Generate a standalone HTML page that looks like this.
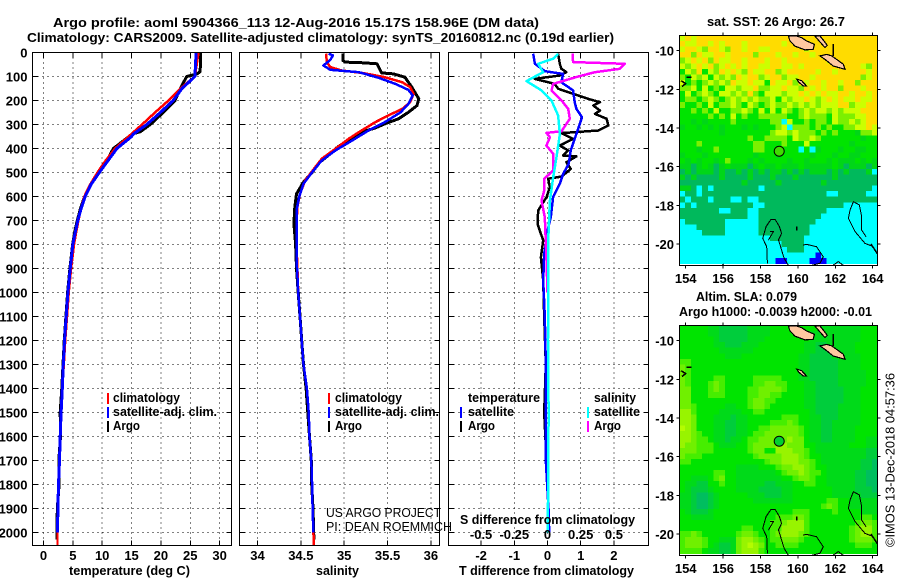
<!DOCTYPE html>
<html lang="en">
<head>
<meta charset="utf-8">
<title>Argo profile chart</title>
<style>
html,body{margin:0;padding:0;background:#fff;width:900px;height:580px;overflow:hidden}
svg{display:block;font-family:"Liberation Sans",sans-serif}
text{fill:#000;font-weight:bold;font-size:13px}
text.thin{font-weight:normal}
</style>
</head>
<body>
<svg id="chart" xmlns="http://www.w3.org/2000/svg" width="900" height="580" viewBox="0 0 900 580">
  <text x="53" y="27" textLength="486" lengthAdjust="spacingAndGlyphs">Argo profile: aoml 5904366_113 12-Aug-2016 15.17S 158.96E (DM data)</text>
  <text x="27" y="42" textLength="587" lengthAdjust="spacingAndGlyphs">Climatology: CARS2009. Satellite-adjusted climatology: synTS_20160812.nc (0.19d earlier)</text>

  <g id="p1"></g>
  <g id="p2"></g>
  <g id="p3"></g>
  <g id="m1"></g>
  <g id="m2"></g>

  <text x="69" y="575" textLength="121" lengthAdjust="spacingAndGlyphs">temperature (deg C)</text>
  <text x="316" y="575" textLength="43" lengthAdjust="spacingAndGlyphs">salinity</text>
  <text x="459" y="575" textLength="175" lengthAdjust="spacingAndGlyphs">T difference from climatology</text>

  <g>
    <rect x="107" y="393" width="2" height="11" fill="#f00"/>
    <text x="113" y="402" textLength="67" lengthAdjust="spacingAndGlyphs">climatology</text>
    <rect x="107" y="407" width="2" height="11" fill="#00f"/>
    <text x="113" y="416" textLength="104" lengthAdjust="spacingAndGlyphs">satellite-adj. clim.</text>
    <rect x="107" y="421" width="2" height="11" fill="#000"/>
    <text x="113" y="430" textLength="27" lengthAdjust="spacingAndGlyphs">Argo</text>
  </g>
  <g>
    <rect x="328" y="393" width="2" height="11" fill="#f00"/>
    <text x="335" y="402" textLength="67" lengthAdjust="spacingAndGlyphs">climatology</text>
    <rect x="328" y="407" width="2" height="11" fill="#00f"/>
    <text x="335" y="416" textLength="104" lengthAdjust="spacingAndGlyphs">satellite-adj. clim.</text>
    <rect x="328" y="421" width="2" height="11" fill="#000"/>
    <text x="335" y="430" textLength="27" lengthAdjust="spacingAndGlyphs">Argo</text>
  </g>
  <g>
    <text x="468" y="402" textLength="72" lengthAdjust="spacingAndGlyphs">temperature</text>
    <rect x="460" y="407" width="2" height="11" fill="#00f"/>
    <text x="468" y="416" textLength="46" lengthAdjust="spacingAndGlyphs">satellite</text>
    <rect x="460" y="421" width="2" height="11" fill="#000"/>
    <text x="468" y="430" textLength="27" lengthAdjust="spacingAndGlyphs">Argo</text>
    <text x="594" y="402" textLength="42" lengthAdjust="spacingAndGlyphs">salinity</text>
    <rect x="587" y="407" width="2" height="11" fill="#0ff"/>
    <text x="594" y="416" textLength="46" lengthAdjust="spacingAndGlyphs">satellite</text>
    <rect x="587" y="421" width="2" height="11" fill="#f0f"/>
    <text x="594" y="430" textLength="27" lengthAdjust="spacingAndGlyphs">Argo</text>
  </g>

  <text class="thin" x="326" y="517" textLength="115" lengthAdjust="spacingAndGlyphs">US ARGO PROJECT</text>
  <text class="thin" x="326" y="531" textLength="126" lengthAdjust="spacingAndGlyphs">PI: DEAN ROEMMICH</text>
  <text x="460" y="524" textLength="175" lengthAdjust="spacingAndGlyphs">S difference from climatology</text>

  <text x="707" y="26" textLength="138" lengthAdjust="spacingAndGlyphs">sat. SST: 26 Argo: 26.7</text>
  <text x="696" y="301" textLength="101" lengthAdjust="spacingAndGlyphs">Altim. SLA: 0.079</text>
  <text x="679" y="316" textLength="193" lengthAdjust="spacingAndGlyphs">Argo h1000: -0.0039 h2000: -0.01</text>
  <text class="thin" transform="translate(894.5,547) rotate(-90)" x="0" y="0" textLength="174" lengthAdjust="spacingAndGlyphs">©IMOS 13-Dec-2018 04:57:36</text>
</svg>

<script>
// ---------- tick labels ----------
const depthTicks = [0,100,200,300,400,500,600,700,800,900,1000,1100,1200,1300,1400,1500,1600,1700,1800,1900,2000];
const tempTicks = [0,5,10,15,20,25,30];
const salTicks = [34,34.5,35,35.5,36];
const salTickLabels = ['34','34.5','35','35.5','36'];
const dTTicks = [-2,-1,0,1,2];
const dSTicks = [-0.5,-0.25,0,0.25,0.5];
const dSTickLabels = ['-0.5','-0.25','0','0.25','0.5'];
const lonTicks = [154,156,158,160,162,164];
const latTicks = [-10,-12,-14,-16,-18,-20];

// ---------- temperature profiles ----------
const tDepthClim = [0,100,150,200,250,300,350,400,450,500,550,600,650,700,750,800,900,1000,1100,1200,1300,1400,1500,1600,1700,1800,1900,2000,2054];
const tClim = [26.4,25.8,23.3,21.3,19,16.8,14.5,12.2,10.6,9.2,7.95,6.95,6.4,5.95,5.55,5.2,4.7,4.3,4,3.7,3.45,3.2,3,2.85,2.73,2.56,2.45,2.39,2.39];
const tDepthSat = [0,100,150,200,250,300,340,350,400,450,500,550,600,650,700,750,800,900,1000,1100,1200,1300,1400,1500,1600,1700,1800,1900,2000];
const tSat = [26,25.8,23.6,22.1,19.9,17.6,15.3,15,12.5,11,9.5,8.1,7.1,6.4,5.85,5.4,5,4.55,4.15,3.87,3.58,3.38,3.2,3,2.85,2.73,2.56,2.45,2.39];
const tDepthArgo = [0,80,90,100,150,200,250,300,330,340,400,450,500,550,600,650,700,750,800,900,1000,1100,1200,1300,1400,1500,1600,1700,1800,1900,2030];
const tArgo = [26.75,26.7,26.1,24.4,23.3,22.4,20.4,18.2,16.5,15.1,11.9,10.8,9.4,8,7,6.3,5.75,5.3,4.95,4.5,4.1,3.82,3.55,3.33,3.12,2.85,2.9,2.6,2.65,2.35,2.3];

// ---------- salinity profiles ----------
const sDepthArgo = [5,33,40,43,47,85,89,103,144,193,221,249,276,297,314,332,360,392,422,457,499,540,589,644,714,797,900,1000,1100,1200,1300,1400,1500,1600,1700,1800,1900,2030];
const sArgo = [34.985,34.985,35.01,35.22,35.38,35.43,35.57,35.7,35.78,35.86,35.84,35.74,35.63,35.47,35.36,35.2,35.09,34.93,34.84,34.72,34.63,34.53,34.45,34.43,34.42,34.44,34.45,34.47,34.49,34.51,34.53,34.56,34.58,34.6,34.62,34.625,34.64,34.65];
const sDepthClim = [5,40,61,75,86,103,124,144,172,207,235,262,290,325,360,401,443,485,533,589,644,714,797,900,1000,1100,1200,1300,1400,1500,1600,1700,1800,1900,2000,2054];
const sClim = [34.79,34.8,34.84,34.97,35.22,35.47,35.67,35.76,35.8,35.76,35.67,35.51,35.36,35.2,35.05,34.9,34.74,34.65,34.55,34.49,34.46,34.45,34.45,34.46,34.47,34.49,34.51,34.53,34.57,34.59,34.6,34.62,34.63,34.635,34.645,34.65];
const sDepthSat = [5,12,31,54,72,82,106,131,156,179,214,249,290,325,367,408,450,499,547,603,658,728,853,1000,1100,1200,1300,1400,1500,1600,1700,1800,1900,2000];
const sSat = [34.82,34.87,34.84,34.76,34.84,35.17,35.4,35.59,35.74,35.79,35.74,35.65,35.47,35.28,35.09,34.9,34.74,34.63,34.53,34.48,34.45,34.45,34.45,34.47,34.49,34.51,34.53,34.57,34.59,34.6,34.62,34.63,34.635,34.645];

// ---------- differences from climatology ----------
const dTDepthSat = [5,47,78,89,124,158,207,235,269,339,408,464,506,547,603,686,742,839,950,1100,1300,1500,1700,1900,2000];
const dTSat = [-0.43,-0.38,-0.08,0.47,0.42,0.77,0.82,0.87,1.04,0.87,0.7,0.64,0.47,0.37,0.17,0.1,0,-0.1,-0.13,-0.08,-0.05,-0.05,-0.05,0.03,0.05];
const dTDepthArgo = [5,47,68,82,96,110,131,151,172,193,207,221,242,256,276,304,325,336,360,388,408,429,433,457,485,506,517,526,561,603,658,714,783,853,950,1100,1300,1500,1700,1900];
const dTArgo = [0.32,0.37,0.42,0.57,0.37,-0.38,0.22,0.32,0.77,1.22,1.58,1.38,1.58,1.43,1.78,1.83,1.53,0.42,0.77,0.37,0.62,0.47,0.87,0.57,0.7,0.52,0.42,0.02,0.07,-0.03,-0.28,-0.3,-0.13,-0.2,-0.13,-0.1,-0.05,-0.1,-0.03,0.03];
const dSDepthSat = [5,26,47,82,119,158,200,262,339,436,519,617,783,950,1200,1500,1700,2000];
const dSSat = [0.08,0.043,-0.07,-0.033,-0.158,-0.045,0.03,0.08,0.093,0.068,0.043,0.018,0.005,0.005,0.004,0.008,0.006,0.002];
const dSDepthArgo = [5,40,47,68,82,100,131,158,200,235,276,328,335,353,388,422,471,492,526,575,617,686,853,1000];
const dSArgo = [0.188,0.193,0.583,0.545,0.357,0.231,0.043,0.03,0.106,0.156,0.168,0.106,-0.008,0.018,-0.008,0.043,0.043,0.043,-0.025,-0.025,-0.045,-0.02,-0.008,0];

// ---------- map grids: one character per cell, a level index ----------
const sstRows = [
"56566 66666 66666 66666 66666 66666 66666",
"65566 56566 65666 66656 66666 66666 66666",
"56654 66546 65665 56666 66566 66666 66666",
"66465 56656 66646 66566 56656 66666 66666",
"45656 46556 65666 56656 66666 65666 66666",
"54565 64565 65665 56655 65666 66666 66546",
"35463 54656 54655 66456 66665 66566 66656",
"43545 35454 65664 56645 56656 66666 66456",
"53434 54546 55655 36556 46566 56656 64666",
"44535 34355 45564 45565 54656 56646 66566",
"35345 43554 54643 55545 56565 65566 56656",
"34434 54345 45454 45354 55654 56565 56556",
"43343 53445 43543 45445 45454 55566 45566",
"33434 35334 45435 35354 34545 54545 55666",
"33333 43435 34334 44443 34544 43544 45566",
"33232 33334 33333 34405 33434 43544 54566",
"23323 23233 32323 33450 44434 34334 45565",
"33333 33233 33333 34554 54443 43433 32445",
"33333 33333 33433 44443 54454 33333 33233",
"33343 33333 33344 33343 33533 33333 23333",
"33323 34333 33344 33233 30302 33323 32233",
"23332 33333 33323 33233 33323 33233 22333",
"32323 32343 33232 33332 33233 32322 23232",
"22123 21232 22123 22322 23222 22321 22212",
"12122 21211 21212 12212 12122 21212 11120",
"21211 11211 11211 12111 21111 11211 11111",
"11111 11111 12111 11211 11111 21111 11111",
"22101 01111 11110 11111 11111 11111 11110",
"01101 11111 11111 11111 11111 10011 11100",
"10111 01110 01001 11111 11111 11111 11111",
"01011 11111 11100 11111 11111 11110 00000",
"11111 11001 11001 11111 11111 10000 00000",
"11111 11111 11001 11111 11111 00000 00000",
"01111 11100 00001 11111 11110 00000 00000",
"00011 11100 00001 11111 11100 00000 00000",
"00001 11100 00001 11111 11100 00000 00000",
"00000 00000 00000 01111 11000 00000 00000",
"00000 00000 00000 00011 11000 00000 00000",
"00000 00000 00000 00001 11000 00000 00000",
"00000 00000 00000 00000 00007 00000 00000",
"00000 00000 00000 00770 00077 70000 00000"
];
const sstLevels = ['#00ffff','#00b95c','#00d618','#00e400','#7cf000','#ccff00','#ffdc00','#0000ff'];

const slaRows = [
"33333 22111 11222 23333 33333 22222 22333",
"33333 22111 11222 23333 33322 22222 22333",
"33333 32111 11222 33333 33322 22222 22333",
"33333 32211 12223 33333 33221 12222 23333",
"33333 33222 22233 33333 33221 11222 23333",
"33333 33322 23333 33333 32211 11222 22333",
"44333 33333 33333 33333 32211 11122 22333",
"54333 33333 33333 33333 32211 11122 22333",
"54333 33333 33333 33333 32211 11122 22233",
"54333 34433 33344 44433 32211 11122 22233",
"54333 45433 33344 55443 33221 11122 22233",
"55333 45433 33445 55543 33221 11112 22333",
"55333 44433 33445 54433 33221 11112 22333",
"55333 33333 33455 44333 33221 11112 22333",
"55433 33322 33455 43333 33221 11122 22333",
"66433 33222 23344 33333 33321 11122 22333",
"66533 32221 22333 33344 43322 11122 22333",
"66533 32211 22333 34445 43322 11222 22333",
"76533 32211 22334 45555 54322 11222 23333",
"66543 32211 22344 55555 54322 11222 23333",
"66544 32212 23445 55656 55322 11222 23322",
"65544 43222 33455 55665 55332 22222 33322",
"55544 43333 33455 33666 55432 22222 22211",
"54443 33333 33345 55566 65433 22222 22211",
"44333 33333 33333 45566 65543 22222 22110",
"33333 33333 22223 33455 66543 32222 22110",
"33333 34433 22222 22345 56544 32222 21100",
"33222 34533 22222 22233 45543 32222 21100",
"32211 33433 22222 11222 33443 32222 21100",
"32111 23333 22221 11122 33333 33222 21110",
"22100 12333 33222 11122 33333 33222 22111",
"22100 12333 33322 22222 33333 34433 22222",
"22100 12333 33333 33333 33333 45433 22222",
"32111 23333 33333 33333 44433 33433 33222",
"33222 23333 33333 33444 55433 33333 33443",
"33333 33333 33333 34456 66433 33333 34554",
"33333 33333 34433 34466 66433 33333 45664",
"44543 33333 45543 34566 65433 33333 45664",
"45554 33222 56654 34455 54333 33333 45554",
"45554 32112 56765 33444 43333 33333 34443",
"44443 22112 56664 33333 33333 33333 33333"
];
const slaLevels = ['#00be5f','#00cd3c','#00da19','#00e400','#46ee00','#70f000','#98f400','#b4fc00'];

// ---------- geography (longitude, latitude) ----------
const argoLon = 159;
const argoLat = -15.2;
const islandLons = [
  [159.49,159.58,159.84,160.38,160.82,160.88,160.47,160.2,159.94],
  [161.18,161.45,161.89,162.52,162.43,162.07,161.81,161.54],
  [160.91,161.18,161.45,161.57,161.36,161.18],
  [159.94,160.2,160.47,160.3,160.03]
];
const islandLats = [
  [-9.24,-9.5,-9.76,-9.96,-9.93,-9.67,-9.5,-9.33,-9.24],
  [-10.27,-10.45,-10.79,-10.96,-10.7,-10.45,-10.27,-10.19],
  [-9.24,-9.55,-9.84,-9.72,-9.45,-9.24],
  [-11.47,-11.55,-11.83,-11.83,-11.62]
];
const reefLons = [
  [161.89,161.89],[153.75,154.0,153.8],[154.05,154.3],[163.9,164.05,164.25],[159.94,159.94]
];
const reefLats = [
  [-9.65,-10.27],[-11.55,-11.7,-11.85],[-11.38,-11.38],[-20.0,-20.2,-20.5],[-19.1,-19.3]
];
const contourLons = [
  [159.49,159.26,159.13,158.96,159.13,159.01,158.78,158.56,158.3,158.12,158.33,158.37],
  [158.51,158.69,158.42],
  [163.64,163.41,163.41,163.29,162.97,162.79,162.7,163.06,163.59,164.04],
  [160.26,160.47,161,161.36,161.18,160.74,160.65],
  [161.9,162.16,162.43],
  [155.9,156.0,156.1]
];
const contourLats = [
  [-21.1,-20.74,-20.31,-19.79,-19.45,-19.1,-18.72,-18.72,-19.1,-19.71,-20.14,-21],
  [-19.36,-19.36,-19.8],
  [-19.62,-19.28,-18.59,-17.98,-17.81,-18.24,-18.67,-19.36,-19.97,-20.14],
  [-20.05,-20.02,-20.14,-20.66,-21,-21.1,-21.2],
  [-21.09,-20.91,-21.1],
  [-21.2,-21.05,-21.2]
];

// ---------- helpers ----------
const NS = 'http://www.w3.org/2000/svg';
function make(tag, attrs, parent) {
  const e = document.createElementNS(NS, tag);
  for (const k in attrs) e.setAttribute(k, attrs[k]);
  parent.appendChild(e);
  return e;
}
const gridDash = '1 4';
const panelTop = 52.5, panelBottom = 545.5;
const depthY = d => 52.5 + d * 0.24;

function drawPanel(g, left, right, xTickVals, xFn, xLabels, showDepthLabels, name) {
  depthTicks.forEach(d => {
    const y = depthY(d);
    if (d > 0) {
      const gl = make('line', {x1:left, x2:right, y1:y, y2:y, stroke:'#000', 'stroke-dasharray':gridDash, 'shape-rendering':'crispEdges'}, g);
      
      
      const tl = make('line', {x1:left, x2:left+5, y1:y, y2:y, stroke:'#000', 'shape-rendering':'crispEdges'}, g);
      
      
      const tr = make('line', {x1:right-5, x2:right, y1:y, y2:y, stroke:'#000', 'shape-rendering':'crispEdges'}, g);
      
      
    }
    if (showDepthLabels) {
      const lab = make('text', {x:27.5, y:y+5, 'text-anchor':'end'}, g);
      lab.textContent = String(d);
      
      
    }
  });
  xTickVals.forEach((v, i) => {
    const x = xFn(v);
    const gl = make('line', {x1:x, x2:x, y1:panelTop, y2:panelBottom, stroke:'#000', 'stroke-dasharray':gridDash, 'shape-rendering':'crispEdges'}, g);
    
    
    const tb = make('line', {x1:x, x2:x, y1:panelBottom-5, y2:panelBottom, stroke:'#000', 'shape-rendering':'crispEdges'}, g);
    
    
    const tt = make('line', {x1:x, x2:x, y1:panelTop, y2:panelTop+5, stroke:'#000', 'shape-rendering':'crispEdges'}, g);
    
    
    const lab = make('text', {x:x, y:560, 'text-anchor':'middle'}, g);
    lab.textContent = xLabels[i];
    
    
  });
}
function drawFrame(g, left, right, top, bottom) {
  const r = make('rect', {x:left, y:top, width:right-left, height:bottom-top, fill:'none', stroke:'#000', 'shape-rendering':'crispEdges'}, g);
  
  
}
function drawProfile(g, depths, vals, xFn, color, width, name) {
  const pts = depths.map((d, i) => xFn(vals[i]).toFixed(1) + ',' + depthY(d).toFixed(1)).join(' ');
  const p = make('polyline', {points:pts, fill:'none', stroke:color, 'stroke-width':width, 'shape-rendering':'crispEdges', 'stroke-linejoin':'round'}, g);
  
  
}

// ---------- profile panels ----------
const p1 = document.getElementById('p1');
const p2 = document.getElementById('p2');
const p3 = document.getElementById('p3');
const tempX = v => 43.5 + v * 5.87;
const salX = v => 257.5 + (v - 34) * 86.7;
const dTX = v => 547.5 + v * 33.2;
const dSX = v => 547.5 + v * 132.8;

drawPanel(p1, 32.5, 231.5, tempTicks, tempX, tempTicks.map(String), true, 'temperature');
drawProfile(p1, tDepthArgo, tArgo, tempX, '#000', 3, 'argo-temperature-line');
drawProfile(p1, tDepthClim, tClim, tempX, '#f00', 2.5, 'climatology-temperature-line');
drawProfile(p1, tDepthSat, tSat, tempX, '#00f', 3, 'satellite-temperature-line');
drawFrame(p1, 32.5, 231.5, panelTop, panelBottom);

drawPanel(p2, 239.5, 439.5, salTicks, salX, salTickLabels, false, 'salinity');
drawProfile(p2, sDepthArgo, sArgo, salX, '#000', 3, 'argo-salinity-line');
drawProfile(p2, sDepthClim, sClim, salX, '#f00', 2.5, 'climatology-salinity-line');
drawProfile(p2, sDepthSat, sSat, salX, '#00f', 2.5, 'satellite-salinity-line');
drawFrame(p2, 239.5, 439.5, panelTop, panelBottom);

drawPanel(p3, 448.5, 648.5, dTTicks, dTX, dTTicks.map(String), false, 't-difference');
drawProfile(p3, dTDepthArgo, dTArgo, dTX, '#000', 2.5, 'argo-t-difference-line');
drawProfile(p3, dTDepthSat, dTSat, dTX, '#00f', 2.5, 'satellite-t-difference-line');
drawProfile(p3, dSDepthArgo, dSArgo, dSX, '#f0f', 2.5, 'argo-s-difference-line');
drawProfile(p3, dSDepthSat, dSSat, dSX, '#0ff', 2.5, 'satellite-s-difference-line');
drawFrame(p3, 448.5, 648.5, panelTop, panelBottom);
dSTicks.forEach((v, i) => {
  const lab = make('text', {x:dSX(v), y:539, 'text-anchor':'middle'}, p3);
  lab.textContent = dSTickLabels[i];
  
  
});

// ---------- maps ----------
function drawMap(g, id, rows, levels, top, bottom, lat10Y, labelBaseline, circleFill, name) {
  const left = 679.5, right = 877.5;
  const lonX = lon => 685.7 + (lon - 154) * 18.7;
  const latY = lat => lat10Y + (-10 - lat) * 19.33;
  const clip = make('clipPath', {id:id}, g);
  make('rect', {x:left, y:top, width:right-left, height:bottom-top}, clip);
  const body = make('g', {'clip-path':'url(#' + id + ')'}, g);
  const cw = 198 / 35, ch = 5.56;
  rows.forEach((row, r) => {
    row.replace(/ /g, '').split('').forEach((ch0, c) => {
      const cell = make('rect', {x:(left + c * cw).toFixed(2), y:(top + r * ch).toFixed(2), width:(cw + 0.4).toFixed(2), height:(ch + 0.4).toFixed(2), fill:levels[+ch0], 'shape-rendering':'crispEdges'}, body);
      
      
    });
  });
  contourLons.forEach((lons, i) => {
    const pts = lons.map((lon, j) => lonX(lon).toFixed(1) + ',' + latY(contourLats[i][j]).toFixed(1)).join(' ');
    const l = make('polyline', {points:pts, fill:'none', stroke:'#000', 'stroke-width':1, 'shape-rendering':'crispEdges'}, body);
    
    
  });
  reefLons.forEach((lons, i) => {
    const pts = lons.map((lon, j) => lonX(lon).toFixed(1) + ',' + latY(reefLats[i][j]).toFixed(1)).join(' ');
    const l = make('polyline', {points:pts, fill:'none', stroke:'#000', 'stroke-width':1.5, 'shape-rendering':'crispEdges'}, body);
    
    
  });
  islandLons.forEach((lons, i) => {
    const pts = lons.map((lon, j) => lonX(lon).toFixed(1) + ',' + latY(islandLats[i][j]).toFixed(1)).join(' ');
    const l = make('polygon', {points:pts, fill:'#ffc8a0', stroke:'#000', 'stroke-width':1.2, 'shape-rendering':'crispEdges'}, body);
    
    
  });
  const marker = make('circle', {cx:lonX(argoLon), cy:latY(argoLat), r:5, fill:circleFill, stroke:'#000', 'stroke-width':1}, g);
  
  
  drawFrame(g, left, right, top, bottom);
  lonTicks.forEach(lon => {
    const x = lonX(lon);
    const tb = make('line', {x1:x, x2:x, y1:bottom, y2:bottom+3, stroke:'#000', 'shape-rendering':'crispEdges'}, g);
    
    
    const tt = make('line', {x1:x, x2:x, y1:top-3, y2:top, stroke:'#000', 'shape-rendering':'crispEdges'}, g);
    
    
    const lab = make('text', {x:x, y:labelBaseline, 'text-anchor':'middle'}, g);
    lab.textContent = String(lon);
    
    
  });
  latTicks.forEach(lat => {
    const y = latY(lat);
    const tl = make('line', {x1:left-3, x2:left, y1:y, y2:y, stroke:'#000', 'shape-rendering':'crispEdges'}, g);
    
    
    const tr = make('line', {x1:right, x2:right+3, y1:y, y2:y, stroke:'#000', 'shape-rendering':'crispEdges'}, g);
    
    
    const lab = make('text', {x:674, y:y+5, 'text-anchor':'end'}, g);
    lab.textContent = String(lat);
    
    
  });
}
drawMap(document.getElementById('m1'), 'clip-m1', sstRows, sstLevels, 35.5, 265.5, 50.7, 283, '#3fdc00', 'sst');
drawMap(document.getElementById('m2'), 'clip-m2', slaRows, slaLevels, 325.5, 555.5, 340.7, 573, '#00d030', 'sla');
</script>
</body>
</html>
